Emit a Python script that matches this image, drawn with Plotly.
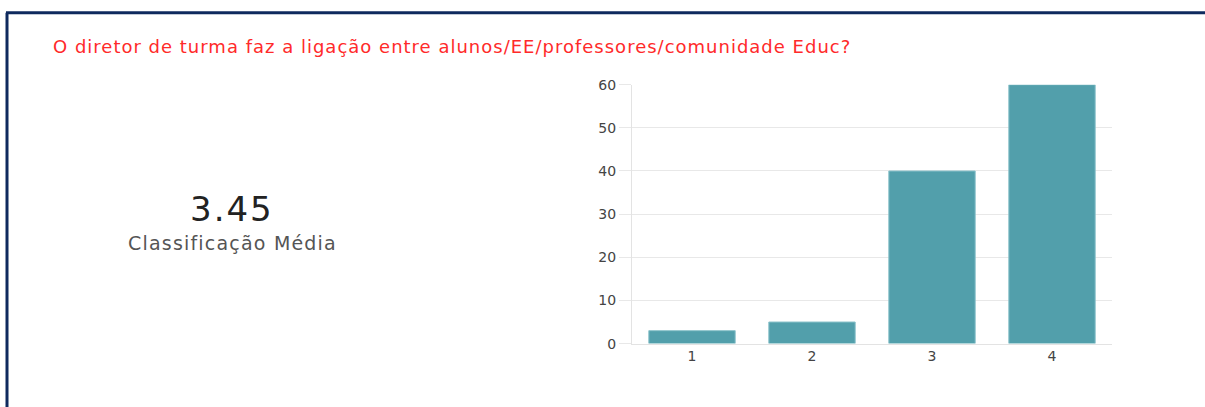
import plotly.graph_objects as go

categories = ["1", "2", "3", "4"]
counts = [3, 5, 40, 60]
y_ticks = [0, 10, 20, 30, 40, 50, 60]
question = "O diretor de turma faz a ligação entre alunos/EE/professores/comunidade Educ?"
average_value = "3.45"
average_label = "Classificação Média"

W, H = 1205, 407
FONT = "DejaVu Sans"

# vertical calibration of the photographed page
Y_OFF, Y_SCALE = 7.3, 0.961


def px_x(v):
    return v / W


def px_y(v):
    return 1 - ((v - Y_OFF) / Y_SCALE) / H


def spaced(text, sp):
    return f'<span style="letter-spacing:{sp}px">{text}</span>'


fig = go.Figure()
fig.add_trace(go.Bar(
    x=categories, y=counts,
    marker=dict(color="#529fab", line=dict(color="#8cc3cb", width=1)),
    hoverinfo="x+y",
))

fig.update_layout(
    width=W, height=H,
    margin=dict(l=0, r=0, t=0, b=0),
    paper_bgcolor="white", plot_bgcolor="white",
    bargap=0.28,
    showlegend=False,
    font=dict(family=FONT, color="#444"),
    xaxis=dict(
        domain=[px_x(632), px_x(1112)],
        anchor="y",
        showgrid=False,
        showline=True, linecolor="#e3e3e3", linewidth=1,
        ticks="", tickfont=dict(size=14, color="#444", family=FONT),
        zeroline=False,
    ),
    yaxis=dict(
        domain=[px_y(343), px_y(84)],
        anchor="x",
        range=[0, 60],
        tickvals=y_ticks,
        showgrid=True, gridcolor="#e8e8e8", gridwidth=1,
        showline=True, linecolor="#e3e3e3", linewidth=1,
        ticks="outside", ticklen=12, tickcolor="#e8e8e8",
        tickfont=dict(size=14, color="#444", family=FONT),
        zeroline=False,
    ),
    shapes=[
        dict(type="line", xref="paper", yref="paper",
             x0=px_x(7), x1=px_x(7), y0=-0.1, y1=px_y(12),
             line=dict(color="#0f2a5e", width=3)),
        dict(type="line", xref="paper", yref="paper",
             x0=px_x(6), x1=1, y0=px_y(12), y1=px_y(12),
             line=dict(color="#0f2a5e", width=3)),
    ],
    annotations=[
        dict(text=spaced(question, 1.0), xref="paper", yref="paper",
             x=px_x(51), y=px_y(46), xanchor="left", yanchor="middle",
             showarrow=False, font=dict(size=18, color="#ff2a2a", family=FONT)),
        dict(text=spaced(average_value, 2), xref="paper", yref="paper",
             x=px_x(232), y=px_y(208), xanchor="center", yanchor="middle",
             showarrow=False, font=dict(size=34, color="#222", family=FONT)),
        dict(text=spaced(average_label, 1.2), xref="paper", yref="paper",
             x=px_x(232), y=px_y(242), xanchor="center", yanchor="middle",
             showarrow=False, font=dict(size=19, color="#555", family=FONT)),
    ],
)

fig.write_html(
    "out.html",
    config={"displayModeBar": False},
    post_script=(
        "document.body.style.margin='0';"
        "document.body.style.overflow='hidden';"
        "document.documentElement.style.background="
        "'linear-gradient(to right, white 5.5px, #0f2a5e 5.5px, #0f2a5e 8.5px, white 8.5px)';"
    ),
)
